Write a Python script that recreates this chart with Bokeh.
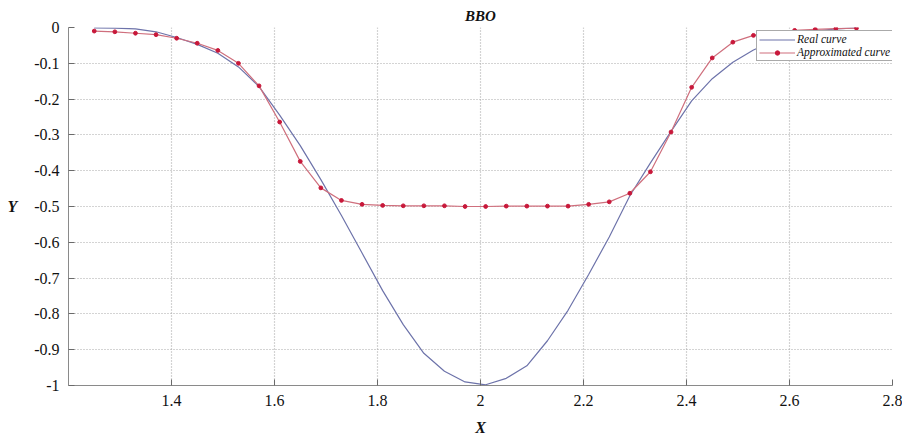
from bokeh.plotting import figure
from bokeh.models import Range1d, FixedTicker, Legend, LegendItem
from bokeh.embed import file_html
from bokeh.resources import INLINE

# ---- data ----
x_vals = [1.25, 1.29, 1.33, 1.37, 1.41, 1.45, 1.49, 1.53, 1.57, 1.61,
          1.65, 1.69, 1.73, 1.77, 1.81, 1.85, 1.89, 1.93, 1.97, 2.01,
          2.05, 2.09, 2.13, 2.17, 2.21, 2.25, 2.29, 2.33, 2.37, 2.41,
          2.45, 2.49, 2.53, 2.57, 2.61, 2.65, 2.69, 2.73]

real_curve = [-0.001, -0.002, -0.004, -0.012, -0.028, -0.047, -0.072, -0.110, -0.165, -0.245,
              -0.330, -0.425, -0.525, -0.630, -0.735, -0.830, -0.910, -0.960, -0.990, -0.998,
              -0.980, -0.945, -0.875, -0.790, -0.690, -0.585, -0.470, -0.378, -0.290, -0.205,
              -0.143, -0.097, -0.063, -0.038, -0.020, -0.010, -0.004, -0.001]

approx_curve = [-0.010, -0.012, -0.016, -0.020, -0.030, -0.044, -0.064, -0.100, -0.163, -0.264,
                -0.374, -0.448, -0.483, -0.494, -0.497, -0.498, -0.498, -0.498, -0.500, -0.500,
                -0.499, -0.499, -0.499, -0.499, -0.494, -0.487, -0.463, -0.403, -0.292, -0.167,
                -0.085, -0.041, -0.022, -0.014, -0.008, -0.005, -0.003, -0.002]

x_ticks = [1.4, 1.6, 1.8, 2.0, 2.2, 2.4, 2.6, 2.8]
x_tick_labels = ["1.4", "1.6", "1.8", "2", "2.2", "2.4", "2.6", "2.8"]
y_ticks = [0, -0.1, -0.2, -0.3, -0.4, -0.5, -0.6, -0.7, -0.8, -0.9, -1]
y_tick_labels = ["0", "-0.1", "-0.2", "-0.3", "-0.4", "-0.5", "-0.6", "-0.7", "-0.8", "-0.9", "-1"]

SERIF = "Liberation Serif"

p = figure(width=902, height=438, output_backend="svg", toolbar_location=None,
           x_range=Range1d(1.2, 2.8), y_range=Range1d(-1, 0),
           min_border_left=68, min_border_right=10, min_border_top=27, min_border_bottom=50,
           title="BBO")
p.outline_line_color = None
p.background_fill_color = "white"

p.title.align = "center"
p.title.text_font = SERIF
p.title.text_font_style = "bold italic"
p.title.text_font_size = "15px"
p.title.text_color = "#111111"
p.title.standoff = 8

# axes
for ax in (p.xaxis, p.yaxis):
    ax.axis_line_color = "#8a8a8a"
    ax.major_tick_line_color = "#6a6a6a"
    ax.major_tick_in = 6
    ax.major_tick_out = 0
    ax.minor_tick_line_color = None
    ax.major_label_text_font = SERIF
    ax.major_label_text_font_style = "normal"
    ax.major_label_text_font_size = "16px"
    ax.major_label_text_color = "#111111"
    ax.major_label_standoff = 9
    ax.axis_label_text_font = SERIF
    ax.axis_label_text_font_style = "bold italic"
    ax.axis_label_text_font_size = "16px"
    ax.axis_label_text_color = "#111111"

p.xaxis.ticker = FixedTicker(ticks=x_ticks)
p.xaxis.major_label_overrides = {t: l for t, l in zip(x_ticks, x_tick_labels)}
p.yaxis.ticker = FixedTicker(ticks=y_ticks)
p.yaxis.major_label_overrides = {t: l for t, l in zip(y_ticks, y_tick_labels)}

p.xaxis.axis_label = "X"
p.xaxis.axis_label_standoff = 10
p.yaxis.axis_label = "Y"
p.yaxis.axis_label_standoff = 14
try:
    p.yaxis.axis_label_orientation = "horizontal"
except Exception:
    pass

# grid
p.xgrid.ticker = FixedTicker(ticks=x_ticks)
p.ygrid.ticker = FixedTicker(ticks=y_ticks)
for g in (p.xgrid, p.ygrid):
    g.grid_line_color = "#a8a8a8"
    g.grid_line_dash = "1 2"
    g.grid_line_width = 1.2

# curves
real_r = p.line(x_vals, real_curve, line_color="#6d73aa", line_width=1.2)
approx_line = p.line(x_vals, approx_curve, line_color="#cf6f7d", line_width=1.2)
approx_pts = p.scatter(x_vals, approx_curve, size=3.8, marker="circle",
                       fill_color="#c8183a", line_color="#c8183a")

legend = Legend(items=[
    LegendItem(label="Real curve", renderers=[real_r]),
    LegendItem(label="Approximated curve", renderers=[approx_line, approx_pts]),
], location=(688, 324))
legend.label_text_font = SERIF
legend.label_text_font_style = "italic"
legend.label_text_font_size = "11.5px"
legend.label_text_color = "#111111"
legend.label_height = 11
legend.glyph_height = 11
legend.glyph_width = 36
legend.label_standoff = 2
legend.spacing = 1
legend.padding = 2
legend.margin = 0
legend.border_line_color = "#555555"
legend.border_line_width = 1.2
legend.background_fill_color = "white"
legend.background_fill_alpha = 1.0
p.add_layout(legend)

open("out.html", "w").write(file_html(p, INLINE))
